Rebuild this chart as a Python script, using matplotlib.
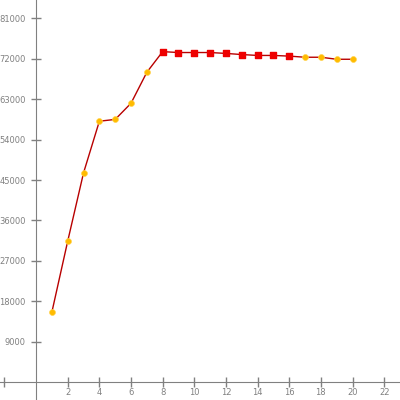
import matplotlib
matplotlib.use("Agg")
import matplotlib.pyplot as plt

xs = list(range(1, 21))
values = [15600, 31400, 46600, 58100, 58500, 62100, 69000, 73600, 73400, 73400,
          73400, 73200, 72950, 72750, 72750, 72600, 72350, 72350, 71900, 71900]
red_points = [8, 9, 10, 11, 12, 13, 14, 15, 16]
xticks = [-2, 2, 4, 6, 8, 10, 12, 14, 16, 18, 20, 22]
xlabels = ["", "2", "4", "6", "8", "10", "12", "14", "16", "18", "20", "22"]
yticks = [9000, 18000, 27000, 36000, 45000, 54000, 63000, 72000, 81000]

fig = plt.figure(figsize=(4, 4), dpi=100)
ax = fig.add_axes([0, 0, 1, 1])

ax.plot(xs, values, color="#b80000", linewidth=1, zorder=2)
ox = [x for x in xs if x not in red_points]
oy = [v for x, v in zip(xs, values) if x not in red_points]
rx = [x for x in xs if x in red_points]
ry = [v for x, v in zip(xs, values) if x in red_points]
ax.scatter(ox, oy, s=18, color="#ffbb00", edgecolors="#ffd24d", linewidths=0.5, zorder=3)
ax.scatter(rx, ry, s=15, marker="s", color="#ee0000", zorder=3)

ax.set_xlim(-2.28, 23.0)
ax.set_ylim(-4000, 85100)

grey = "#808080"
for side in ["top", "right"]:
    ax.spines[side].set_visible(False)
ax.spines["left"].set_position(("data", 0))
ax.spines["bottom"].set_position(("data", 0))
ax.spines["left"].set_color(grey)
ax.spines["bottom"].set_color(grey)

ax.set_xticks(xticks)
ax.set_xticklabels(xlabels)
ax.set_yticks(yticks)
ax.set_yticklabels([str(y) for y in yticks])
ax.tick_params(direction="inout", length=7, width=1, color=grey,
               labelcolor=grey, labelsize=6)
ax.tick_params(axis="x", pad=1)
ax.tick_params(axis="y", pad=4)

fig.savefig("out.png", dpi=100)
